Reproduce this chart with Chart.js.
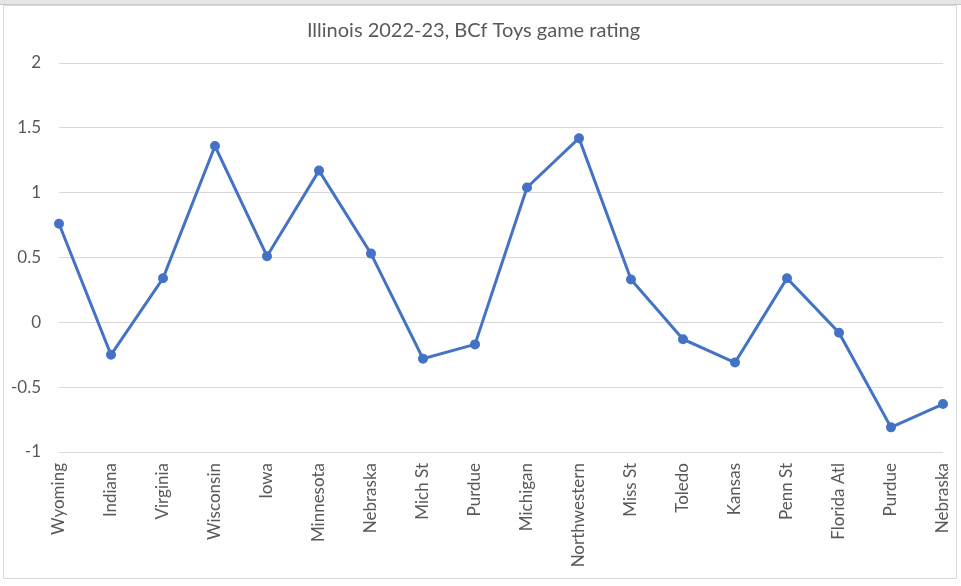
<!DOCTYPE html>
<html>
<head>
<meta charset="utf-8">
<script src="https://cdn.jsdelivr.net/npm/chart.js@4.4.0/dist/chart.umd.min.js"></script>
<style>
  html, body { margin: 0; padding: 0; background: #ffffff; }
  body { width: 961px; height: 586px; position: relative; overflow: hidden; }
  .hdr { position: absolute; left: 0; top: 0; width: 961px; height: 4px; background: #e6e6e6; border-bottom: 1px solid #c8c8c8; }
  .box { position: absolute; left: 3px; top: 5px; width: 952px; height: 572px; border: 1px solid #d9d9d9; background: #fff; }
  canvas { display: block; }
</style>
</head>
<body>
<div class="hdr"></div>
<div class="box"><canvas id="c" width="952" height="572"></canvas></div>
<script>
const chartTitle = "Illinois 2022-23, BCf Toys game rating";
const categories = ["Wyoming", "Indiana", "Virginia", "Wisconsin", "Iowa", "Minnesota", "Nebraska", "Mich St", "Purdue", "Michigan", "Northwestern", "Miss St", "Toledo", "Kansas", "Penn St", "Florida Atl", "Purdue", "Nebraska"];
const ratings = [0.76, -0.25, 0.34, 1.36, 0.51, 1.17, 0.53, -0.28, -0.17, 1.04, 1.42, 0.33, -0.13, -0.31, 0.34, -0.08, -0.81, -0.63];
const yMin = -1, yMax = 2, yStep = 0.5;

const FONT = "Lato, 'Open Sans', sans-serif";
const GREY = "#595959";

new Chart(document.getElementById("c"), {
  type: "line",
  data: {
    labels: categories,
    datasets: [{
      data: ratings,
      borderColor: "#4472C4",
      backgroundColor: "#4472C4",
      borderWidth: 3,
      pointRadius: 3.5,
      pointHoverRadius: 3.5,
      tension: 0,
      fill: false
    }]
  },
  options: {
    responsive: false,
    animation: false,
    layout: { padding: { top: 4, right: 13, bottom: 0, left: 0 } },
    plugins: {
      legend: { display: false },
      tooltip: { enabled: false },
      title: {
        display: true,
        text: chartTitle,
        color: GREY,
        font: { family: FONT, size: 20, weight: "normal" },
        padding: { top: 9, bottom: 20 }
      }
    },
    scales: {
      x: {
        offset: false,
        grid: { display: false, drawTicks: false },
        border: { display: false },
        ticks: {
          color: GREY,
          font: { family: FONT, size: 17 },
          minRotation: 90,
          maxRotation: 90,
          autoSkip: false,
          padding: 11
        },
        afterFit: (s) => { s.height = 126; s.paddingLeft = 0; s.paddingRight = 0; }
      },
      y: {
        min: yMin,
        max: yMax,
        grid: { color: "#d9d9d9", lineWidth: 1, drawTicks: false },
        border: { display: false },
        ticks: {
          stepSize: yStep,
          color: GREY,
          font: { family: FONT, size: 17 },
          padding: 18,
          callback: (v) => String(v)
        },
        afterFit: (s) => { s.width = 55; s.paddingTop = 0; s.paddingBottom = 0; }
      }
    }
  }
});
</script>
</body>
</html>
